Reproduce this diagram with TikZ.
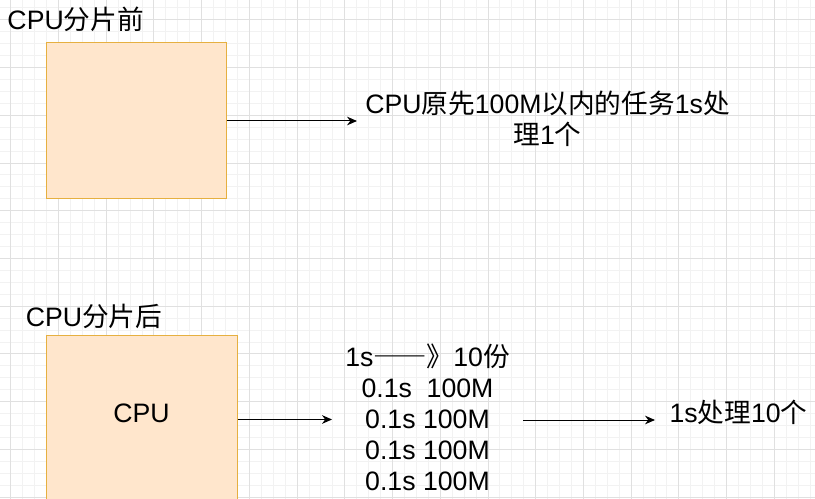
\documentclass[tikz,border=0pt]{standalone}
\usepackage{fontspec}
\setmainfont{Liberation Sans}
\newfontfamily\cjk{Noto Sans CJK SC}
\newfontfamily\cjkwide[RawFeature=+fwid]{Noto Sans CJK SC}
\usetikzlibrary{arrows.meta}
\definecolor{boxfill}{HTML}{FFE6CC}
\definecolor{boxline}{HTML}{E6B040}
\definecolor{gridminor}{HTML}{F2F2F2}
\definecolor{gridmajor}{HTML}{E0E0E0}

\begin{document}
\begin{tikzpicture}[x=0.75pt,y=-0.75pt,line width=0.75pt,>=Stealth,
  box/.style={draw=boxline,fill=boxfill,inner sep=0pt},
  txt/.style={font=\fontsize{20}{23.8}\selectfont,inner sep=0pt},
  arr/.style={-{Stealth[length=7.5pt,width=6.5pt]}}]
% page and background grid
\useasboundingbox (0,0) rectangle (815,499);
\clip (0,0) rectangle (815,499);
\fill[white] (0,0) rectangle (815,499);
\foreach \k in {0,...,69} \draw[gridminor] ({-1.13+11.93*\k},0) -- ({-1.13+11.93*\k},499);
\foreach \k in {-1,...,41} \draw[gridminor] (0,{7.97+11.93*\k}) -- (815,{7.97+11.93*\k});
\foreach \k in {0,...,17} \draw[gridmajor] ({10.8+47.72*\k},0) -- ({10.8+47.72*\k},499);
\foreach \k in {0,...,10} \draw[gridmajor] (0,{19.9+47.72*\k}) -- (815,{19.9+47.72*\k});
% before slicing
\node[txt,anchor=base west] (pretitle) at (7,29.5) {CPU{\cjk 分片前}};
\node[box,minimum width=135pt,minimum height=117pt] (cpupre) at (136,121) {};
\node[txt,align=center,anchor=base] (pretask) at (547.5,145)
  {CPU{\cjk 原先}100M{\cjk 以内的任务}1s{\cjk 处}\\{\cjk 理}1{\cjk 个}};
\coordinate (preend) at (357,121);
\draw[arr] (cpupre.east) -- (preend);
% after slicing
\node[txt,anchor=base west] (posttitle) at (25.4,326) {CPU{\cjk 分片后}};
\node[box,txt,minimum width=143.25pt,minimum height=125.25pt,text depth=10pt] (cpupost) at (141.5,419.5) {CPU};
\node[txt,align=center,anchor=base,font=\fontsize{20}{23.1}\selectfont] (slices) at (427.5,490)
  {1s{\cjkwide ——》}10{\cjk 份}\\0.1s\ \ 100M\\0.1s 100M\\0.1s 100M\\0.1s 100M};
\node[txt,anchor=base west] (result) at (669,422.7) {1s{\cjk 处理}10{\cjk 个}};
\coordinate (postend) at (332,419.5);
\draw[arr] (cpupost.east) -- (postend);
\coordinate (slicesout) at (523,420);
\coordinate (resultin) at (655,420);
\draw[arr] (slicesout) -- (resultin);
\end{tikzpicture}
\end{document}
